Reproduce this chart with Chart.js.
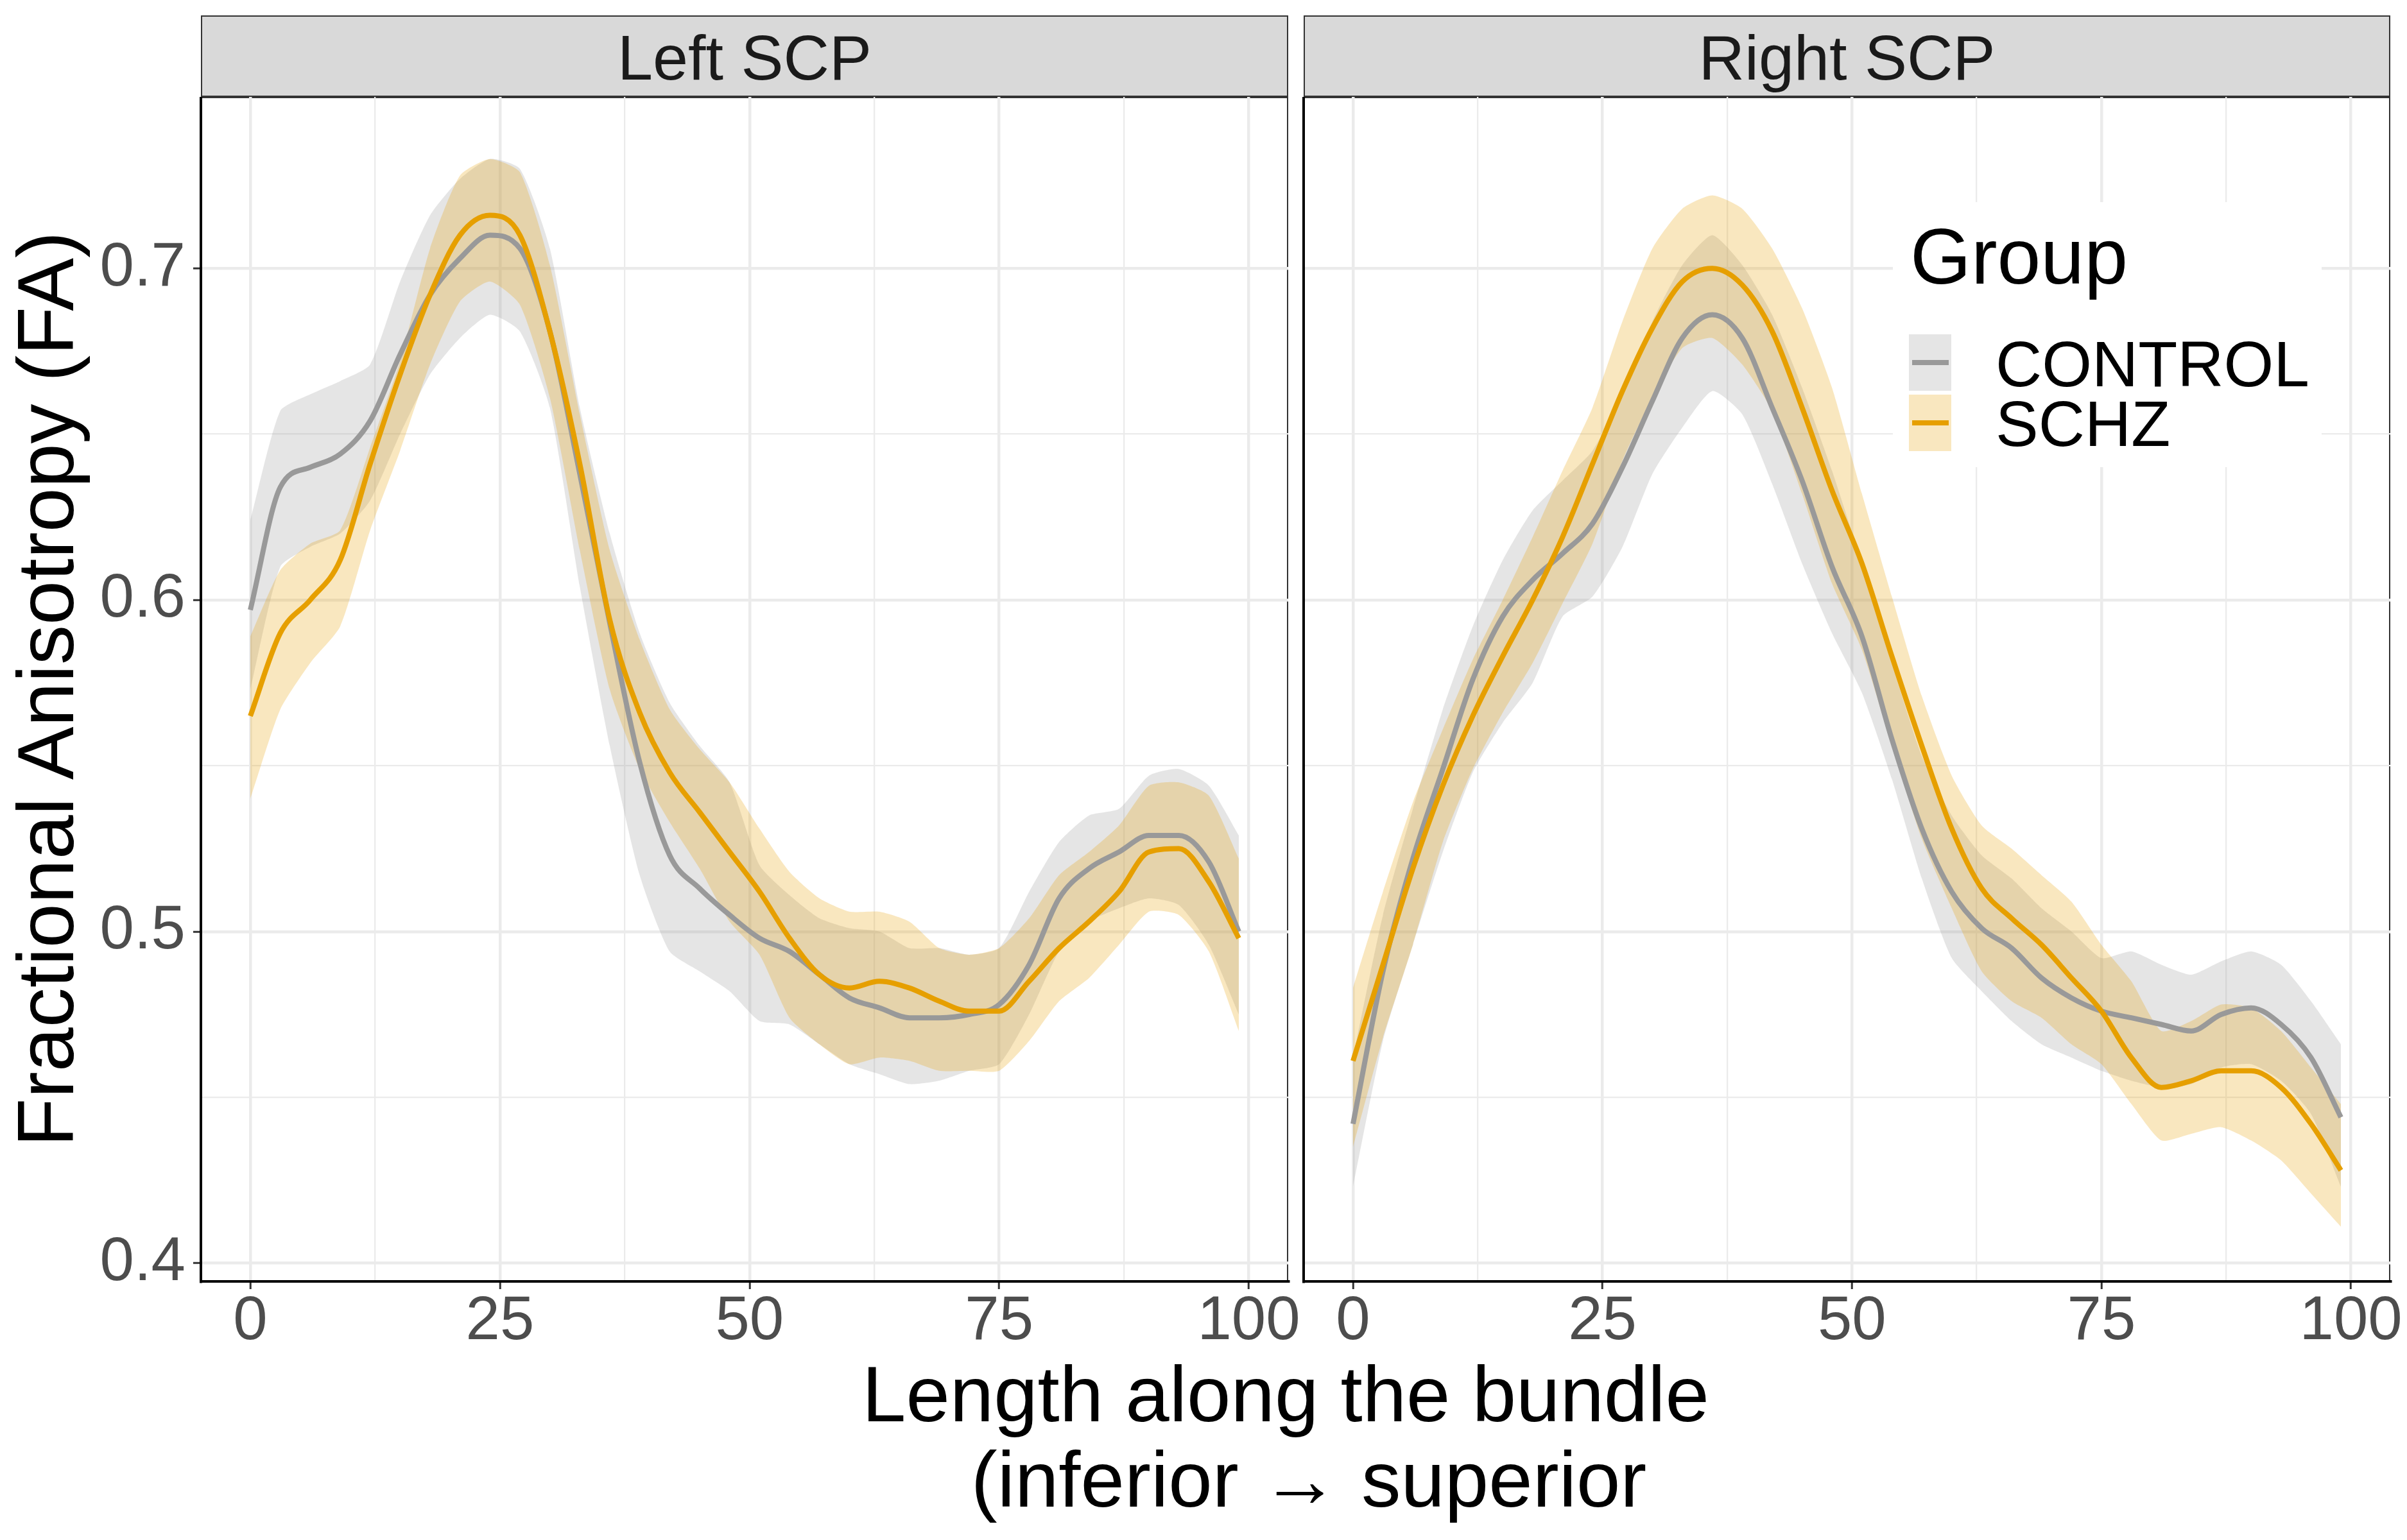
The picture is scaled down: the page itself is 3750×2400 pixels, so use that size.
<!DOCTYPE html>
<html>
<head>
<meta charset="utf-8">
<script src="https://cdn.jsdelivr.net/npm/chart.js@4.4.1/dist/chart.umd.min.js"></script>
<style>
html, body { margin: 0; padding: 0; background: #fff; }
#wrap { position: relative; width: 3750px; height: 2400px; overflow: hidden; font-family: "Liberation Sans", Arial, sans-serif; }
canvas { position: absolute; }
.strip { position: absolute; top: 24px; height: 127px; background: #d9d9d9; border: 2px solid #333; box-sizing: border-box; }
.frame { position: absolute; top: 151px; height: 1846px; border: 2px solid #333; box-sizing: border-box; }
.txt { position: absolute; line-height: 1; white-space: nowrap; }
.legend { position: absolute; left: 2949px; top: 315px; width: 668px; height: 413px; background: #fff; z-index: 5; }
.key { position: absolute; z-index: 6; }
</style>
</head>
<body>
<div id="wrap">
  <div class="strip" style="left:313px;width:1694px"></div>
  <div class="strip" style="left:2031px;width:1693px"></div>
  <div class="frame" style="left:313px;width:1694px"></div>
  <div class="frame" style="left:2031px;width:1693px"></div>
  <canvas id="leftChart" width="2040" height="1979" style="left:0;top:151px"></canvas>
  <canvas id="rightChart" width="1729" height="1979" style="left:2021px;top:151px"></canvas>
  <div class="legend"></div>
</div>
<script>
// position along the bundle (node index)
var xs = [0, 3, 6, 9, 12, 15, 18, 21, 24, 27, 30, 33, 36, 39, 42, 45, 48, 51, 54, 57, 60, 63, 66, 69, 72, 75, 78, 81, 84, 87, 90, 93, 96, 99];

// Left SCP
var leftCtrlMean = [0.597, 0.634, 0.640, 0.644, 0.654, 0.674, 0.692, 0.703, 0.710, 0.706, 0.681, 0.638, 0.593, 0.551, 0.523, 0.513, 0.505, 0.498, 0.494, 0.487, 0.480, 0.477, 0.474, 0.474, 0.475, 0.478, 0.490, 0.510, 0.519, 0.524, 0.529, 0.529, 0.521, 0.500];
var leftCtrlHi   = [0.624, 0.657, 0.662, 0.666, 0.671, 0.696, 0.716, 0.727, 0.733, 0.730, 0.706, 0.658, 0.620, 0.590, 0.569, 0.556, 0.545, 0.520, 0.511, 0.504, 0.501, 0.500, 0.495, 0.495, 0.493, 0.495, 0.512, 0.527, 0.535, 0.537, 0.547, 0.549, 0.544, 0.529];
var leftCtrlLo   = [0.573, 0.610, 0.616, 0.620, 0.630, 0.650, 0.668, 0.679, 0.686, 0.681, 0.658, 0.604, 0.556, 0.517, 0.494, 0.488, 0.482, 0.473, 0.472, 0.466, 0.460, 0.457, 0.454, 0.455, 0.458, 0.460, 0.475, 0.494, 0.503, 0.507, 0.510, 0.508, 0.496, 0.475];
var leftSchzMean = [0.565, 0.590, 0.600, 0.612, 0.641, 0.668, 0.692, 0.710, 0.716, 0.710, 0.681, 0.641, 0.594, 0.566, 0.548, 0.536, 0.524, 0.512, 0.498, 0.487, 0.483, 0.485, 0.483, 0.479, 0.476, 0.476, 0.485, 0.495, 0.503, 0.512, 0.524, 0.525, 0.515, 0.498];
var leftSchzHi   = [0.589, 0.609, 0.617, 0.621, 0.646, 0.672, 0.706, 0.728, 0.733, 0.729, 0.701, 0.656, 0.615, 0.588, 0.567, 0.555, 0.545, 0.531, 0.518, 0.510, 0.506, 0.506, 0.503, 0.495, 0.493, 0.495, 0.504, 0.517, 0.524, 0.532, 0.544, 0.545, 0.541, 0.522];
var leftSchzLo   = [0.540, 0.567, 0.581, 0.592, 0.621, 0.645, 0.671, 0.690, 0.696, 0.689, 0.661, 0.615, 0.573, 0.549, 0.533, 0.519, 0.503, 0.493, 0.474, 0.466, 0.460, 0.462, 0.461, 0.458, 0.458, 0.458, 0.467, 0.479, 0.486, 0.496, 0.506, 0.505, 0.494, 0.470];

// Right SCP
var rightCtrlMean = [0.442, 0.488, 0.522, 0.549, 0.576, 0.595, 0.606, 0.614, 0.623, 0.640, 0.660, 0.679, 0.686, 0.679, 0.658, 0.636, 0.610, 0.589, 0.558, 0.531, 0.512, 0.501, 0.495, 0.486, 0.480, 0.476, 0.474, 0.472, 0.470, 0.475, 0.477, 0.472, 0.462, 0.444];
var rightCtrlHi   = [0.462, 0.505, 0.537, 0.567, 0.592, 0.612, 0.627, 0.636, 0.645, 0.662, 0.684, 0.701, 0.710, 0.701, 0.686, 0.664, 0.639, 0.611, 0.581, 0.553, 0.535, 0.523, 0.516, 0.507, 0.500, 0.492, 0.494, 0.490, 0.487, 0.491, 0.494, 0.490, 0.479, 0.466];
var rightCtrlLo   = [0.423, 0.467, 0.496, 0.524, 0.548, 0.563, 0.575, 0.595, 0.601, 0.616, 0.638, 0.652, 0.663, 0.656, 0.635, 0.611, 0.590, 0.572, 0.546, 0.516, 0.492, 0.482, 0.473, 0.466, 0.462, 0.458, 0.455, 0.453, 0.454, 0.459, 0.460, 0.455, 0.445, 0.423];
var rightSchzMean = [0.461, 0.490, 0.519, 0.544, 0.565, 0.583, 0.600, 0.619, 0.641, 0.663, 0.682, 0.696, 0.700, 0.695, 0.681, 0.658, 0.633, 0.611, 0.583, 0.556, 0.531, 0.513, 0.504, 0.496, 0.486, 0.476, 0.462, 0.453, 0.455, 0.458, 0.458, 0.453, 0.442, 0.428];
var rightSchzHi   = [0.483, 0.512, 0.539, 0.561, 0.582, 0.600, 0.619, 0.639, 0.658, 0.684, 0.706, 0.718, 0.722, 0.718, 0.706, 0.688, 0.664, 0.632, 0.601, 0.571, 0.547, 0.532, 0.525, 0.517, 0.509, 0.496, 0.485, 0.470, 0.473, 0.478, 0.477, 0.470, 0.459, 0.448];
var rightSchzLo   = [0.435, 0.468, 0.496, 0.527, 0.549, 0.566, 0.581, 0.599, 0.617, 0.642, 0.661, 0.676, 0.679, 0.671, 0.657, 0.632, 0.605, 0.585, 0.556, 0.528, 0.507, 0.488, 0.479, 0.474, 0.466, 0.460, 0.448, 0.437, 0.439, 0.441, 0.437, 0.431, 0.421, 0.411];

var xTicks = [0, 25, 50, 75, 100];
var xGrid = [0, 12.5, 25, 37.5, 50, 62.5, 75, 87.5, 100];
var yTicks = [0.4, 0.5, 0.6, 0.7];
var yGrid = [0.4, 0.45, 0.5, 0.55, 0.6, 0.65, 0.7];
var groups = ['CONTROL', 'SCHZ'];
var panels = ['Left SCP', 'Right SCP'];

var ctrlColor = '#999999';
var schzColor = '#E69F00';
var ctrlFill = 'rgba(153,153,153,0.25)';
var schzFill = 'rgba(230,159,0,0.25)';
var FONT = '"Liberation Sans", Arial, sans-serif';

function pts(arr) {
    return xs.map(function(x, i) { return {x: x, y: arr[i]}; });
}

function meanLine(arr, color) {
    return {data: pts(arr), borderColor: color, borderWidth: 8, pointRadius: 0, fill: false, cubicInterpolationMode: 'monotone'};
}
function bandEdge(arr, fill) {
    var d = {data: pts(arr), borderColor: 'rgba(0,0,0,0)', borderWidth: 1, pointRadius: 0, tension: 0.2};
    if (fill) { d.fill = '-1'; d.backgroundColor = fill; } else { d.fill = false; }
    return d;
}

function makeChart(id, s, showY, yWidth, padRight) {
    var ctx = document.getElementById(id).getContext('2d');
    return new Chart(ctx, {
        type: 'line',
        data: {
            datasets: [
                meanLine(s.schzMean, schzColor),
                meanLine(s.ctrlMean, ctrlColor),
                bandEdge(s.schzLo),
                bandEdge(s.schzHi, schzFill),
                bandEdge(s.ctrlLo),
                bandEdge(s.ctrlHi, ctrlFill)
            ]
        },
        options: {
            responsive: false,
            animation: false,
            devicePixelRatio: 1,
            layout: {padding: {left: 0, right: padRight, top: 0, bottom: 0}, autoPadding: false},
            plugins: {
                legend: {display: false},
                tooltip: {enabled: false},
                filler: {drawTime: 'beforeDatasetsDraw', propagate: false}
            },
            scales: {
                x: {
                    type: 'linear', min: -4.95, max: 103.95,
                    afterBuildTicks: function(sc) { sc.ticks = xGrid.map(function(v) { return {value: v}; }); },
                    afterFit: function(sc) { sc.height = 133; sc.paddingLeft = 0; sc.paddingRight = 0; },
                    ticks: {
                        autoSkip: false, maxRotation: 0, padding: -6, color: '#4d4d4d',
                        font: {family: FONT, size: 96},
                        callback: function(v) { return xTicks.indexOf(v) >= 0 ? String(v) : ''; }
                    },
                    grid: {
                        color: '#ebebeb', tickLength: 12,
                        lineWidth: function(c) { return xTicks.indexOf(c.tick.value) >= 0 ? 4.5 : 2.3; },
                        tickColor: function(c) { return xTicks.indexOf(c.tick.value) >= 0 ? '#333' : 'rgba(0,0,0,0)'; },
                        tickWidth: 3
                    },
                    border: {display: true, color: '#000', width: 4}
                },
                y: {
                    type: 'linear', min: 0.3945, max: 0.7517,
                    afterBuildTicks: function(sc) { sc.ticks = yGrid.map(function(v) { return {value: v}; }); },
                    afterFit: function(sc) { sc.width = yWidth; sc.paddingTop = 0; sc.paddingBottom = 0; },
                    ticks: {
                        display: showY, padding: 12, color: '#4d4d4d',
                        font: {family: FONT, size: 96},
                        callback: function(v) { return yTicks.indexOf(v) >= 0 ? v.toFixed(1) : ''; }
                    },
                    grid: {
                        color: '#ebebeb', tickLength: 12, drawTicks: showY,
                        lineWidth: function(c) { return yTicks.indexOf(c.tick.value) >= 0 ? 4.5 : 2.3; },
                        tickColor: function(c) { return yTicks.indexOf(c.tick.value) >= 0 ? '#333' : 'rgba(0,0,0,0)'; },
                        tickWidth: 3
                    },
                    border: {display: true, color: '#000', width: 4}
                }
            }
        }
    });
}

makeChart('leftChart', {
    ctrlMean: leftCtrlMean, ctrlHi: leftCtrlHi, ctrlLo: leftCtrlLo,
    schzMean: leftSchzMean, schzHi: leftSchzHi, schzLo: leftSchzLo
}, true, 313, 33);
makeChart('rightChart', {
    ctrlMean: rightCtrlMean, ctrlHi: rightCtrlHi, ctrlLo: rightCtrlLo,
    schzMean: rightSchzMean, schzHi: rightSchzHi, schzLo: rightSchzLo
}, false, 10, 26);

// text helpers: place by baseline (Liberation Sans, line-height 1)
var wrap = document.getElementById('wrap');
function addText(str, x, base, size, align, color, z) {
    var d = document.createElement('div');
    d.className = 'txt';
    d.textContent = str;
    d.style.fontSize = size + 'px';
    d.style.color = color;
    d.style.top = (base - 0.8465 * size) + 'px';
    if (align === 'center') {
        d.style.left = (x - 2000) + 'px';
        d.style.width = '4000px';
        d.style.textAlign = 'center';
    } else {
        d.style.left = x + 'px';
    }
    if (z) d.style.zIndex = z;
    wrap.appendChild(d);
    return d;
}
function addBox(x, y, w, h, bg) {
    var d = document.createElement('div');
    d.className = 'key';
    d.style.left = x + 'px'; d.style.top = y + 'px';
    d.style.width = w + 'px'; d.style.height = h + 'px';
    d.style.background = bg;
    wrap.appendChild(d);
}

// strip labels
addText(panels[0], 1160, 124, 99, 'center', '#1a1a1a');
addText(panels[1], 2877.5, 124, 99, 'center', '#1a1a1a');

// axis titles
addText('Length along the bundle', 2003, 2215, 123, 'center', '#000');
addText('(inferior \u2192 superior', 2039, 2348, 123, 'center', '#000');
var yt = document.createElement('div');
yt.className = 'txt';
yt.textContent = 'Fractional Anisotropy (FA)';
yt.style.fontSize = '124px';
yt.style.width = '2000px';
yt.style.height = '124px';
yt.style.textAlign = 'center';
yt.style.left = (70.5 - 1000) + 'px';
yt.style.top = (1074 - 62) + 'px';
yt.style.transform = 'rotate(-90deg)';
wrap.appendChild(yt);

// legend
addText('Group', 2976, 442, 122, 'left', '#000', 6);
addBox(2974, 521, 66, 88, '#e5e5e5');
addBox(2979, 561, 57, 8, ctrlColor);
addBox(2974, 615, 66, 88, '#f9e7bf');
addBox(2979, 655, 57, 8, schzColor);
addText(groups[0], 3109, 602, 100, 'left', '#000', 6);
addText(groups[1], 3109, 695, 100, 'left', '#000', 6);
</script>
</body>
</html>
